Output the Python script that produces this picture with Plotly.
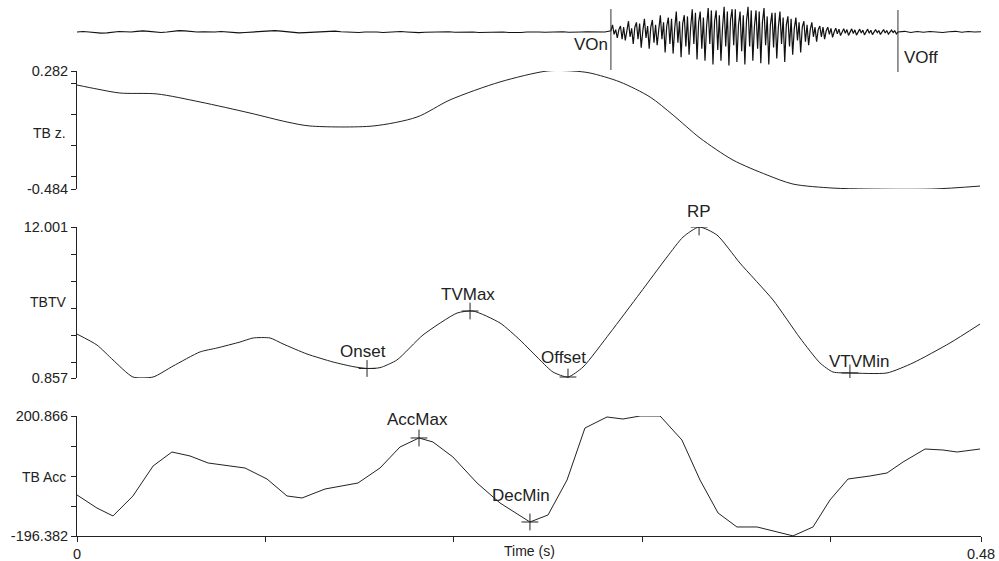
import numpy as np
import plotly.graph_objects as go

# ---------------- data ----------------
T_END = 0.48
T_VON = 0.2835
T_VOFF = 0.4359

# top panel: acoustic waveform (arbitrary units), three segments
wave_pre = [0.0, 0.02, 0.0, -0.03, -0.05, -0.04, 0.0, 0.02, 0.01, 0.0, 0.03, 0.05, 0.03, 0.0, -0.02,
            0.0, 0.04, 0.06, 0.05, 0.02, 0.0, 0.01, -0.01, 0.0, 0.02, 0.0, -0.02, -0.04, -0.02, 0.0,
            0.01, 0.03, 0.05, 0.06, 0.04, 0.01, -0.02, -0.04, -0.03, -0.01, 0.0, 0.02, 0.05, 0.04, 0.01,
            -0.01, -0.03, -0.02, 0.0, 0.01, 0.0, -0.02, 0.0, 0.03, 0.02, 0.0, -0.02, -0.03, -0.01, 0.0,
            0.02, 0.03, 0.01, -0.01, 0.0, 0.02, 0.0, -0.02, -0.01, 0.01, 0.02, 0.0, -0.02, -0.03, -0.02,
            0.0, 0.01, 0.0, -0.01, 0.0, 0.02, 0.01, -0.01, -0.02, 0.0, 0.01, 0.0, -0.01, 0.0]
wave_voiced = [
    0.05, 0.30, -0.1, 0.10, -0.25,   0.1, 0.25, -0.30, 0.2, -0.35,   0.05, 0.45, -0.2, 0.15, -0.50,
    0.2, 0.40, -0.3, 0.35, -0.65,    0.05, 0.55, -0.25, 0.25, -0.7,  0.2, 0.50, -0.45, 0.3, -0.55,
    0.1, 0.70, -0.3, 0.40, -0.85,    0.25, 0.6, -0.5, 0.55, -0.9,    0.15, 0.85, -0.45, 0.45, -1.05,
    0.35, 0.7, -0.6, 0.65, -0.95,    0.2, 0.95, -0.5, 0.8, -1.15,    0.4, 0.85, -0.7, 0.6, -1.2,
    0.25, 1.0, -0.5, 0.9, -1.35,     0.45, 0.9, -0.75, 0.7, -1.2,    0.2, 1.05, -0.6, 0.85, -1.4,
    0.5, 0.95, -0.55, 0.95, -1.25,   0.3, 0.85, -0.8, 0.7, -1.35,    0.45, 1.05, -0.6, 0.9, -1.2,
    0.25, 0.9, -0.7, 0.85, -1.3,     0.4, 1.0, -0.55, 0.65, -1.35,   0.3, 0.8, -0.65, 0.8, -1.1,
    0.2, 0.85, -0.5, 0.6, -1.25,     0.3, 0.65, -0.6, 0.55, -0.95,   0.15, 0.6, -0.35, 0.4, -0.85,
    0.2, 0.45, -0.4, 0.3, -0.55,     0.1, 0.4, -0.2, 0.2, -0.4,      0.1, 0.25, -0.2, 0.2, -0.3,
    0.05, 0.2, -0.1, 0.15, -0.22,    0.0, 0.16, -0.08, 0.12, -0.15,  0.03, 0.14, -0.05, 0.1, -0.14,
    0.0, 0.13, -0.06, 0.09, -0.13,   0.02, 0.12, -0.04, 0.08, -0.12, 0.0, 0.12, -0.05, 0.07, -0.11,
    0.01, 0.1, -0.03, 0.06, -0.1,    0.0, 0.1, -0.04, 0.06, -0.09,   0.0, 0.08, -0.02, 0.05, -0.08]
wave_post = [0.0, 0.03, -0.02, 0.02, -0.01, 0.02, 0.0, -0.02, 0.01, 0.03, -0.01, 0.02, 0.0, 0.01]

# TB z
tbz_t = [0, 0.0106, 0.0228, 0.0425, 0.0653, 0.0919, 0.1115, 0.1237, 0.1572, 0.1805, 0.1980, 0.2246,
         0.2496, 0.2634, 0.2724, 0.2883, 0.3043, 0.3165, 0.3308, 0.3483, 0.3664, 0.3802, 0.4014,
         0.4195, 0.4545, 0.4795]
tbz_v = [0.191, 0.165, 0.139, 0.133, 0.081, 0.009, -0.049, -0.075, -0.075, -0.017, 0.094, 0.211,
         0.282, 0.282, 0.269, 0.211, 0.113, -0.004, -0.153, -0.296, -0.393, -0.452, -0.478,
         -0.484, -0.484, -0.465]

# TBTV
tv_t = [0, 0.0106, 0.0191, 0.0297, 0.0404, 0.0510, 0.0653, 0.0743, 0.0865, 0.0935, 0.1025, 0.1094,
        0.1221, 0.1359, 0.1465, 0.1540, 0.1609, 0.1699, 0.1837, 0.2018, 0.2103, 0.2246, 0.2352,
        0.2458, 0.2527, 0.2607, 0.2687, 0.2830, 0.2990, 0.3133, 0.3218, 0.3303, 0.3398, 0.3520,
        0.3696, 0.3839, 0.3945, 0.4014, 0.4104, 0.4301, 0.4439, 0.4635, 0.4795]
tv_v = [4.10, 3.29, 2.19, 0.93, 0.93, 1.74, 2.78, 3.07, 3.51, 3.81, 3.81, 3.37,
        2.63, 2.04, 1.70, 1.56, 1.62, 2.19, 4.03, 5.65, 5.80, 4.92, 3.66,
        2.19, 1.30, 0.93, 1.67, 4.18, 7.13, 9.79, 11.26, 12.00, 11.41, 9.34,
        6.61, 3.81, 1.97, 1.30, 1.23, 1.23, 1.97, 3.44, 4.84]

# TB Acc
acc_t = [0, 0.0106, 0.0191, 0.0297, 0.0404, 0.0504, 0.0600, 0.0696, 0.0892, 0.1009, 0.1115, 0.1195,
         0.1317, 0.1396, 0.1492, 0.1609, 0.1715, 0.1816, 0.1890, 0.1996, 0.2124, 0.2246, 0.2405,
         0.2501, 0.2602, 0.2697, 0.2814, 0.2899, 0.2990, 0.3096, 0.3212, 0.3308, 0.3404, 0.3504,
         0.3611, 0.3802, 0.3908, 0.3998, 0.4094, 0.4211, 0.4301, 0.4386, 0.4503, 0.4598, 0.4673, 0.4795]
acc_v = [-60.6, -103.7, -130.1, -63.9, 35.4, 81.7, 68.5, 45.3, 28.7, -7.7, -63.9, -70.5,
         -40.8, -30.9, -20.9, 28.7, 98.3, 128.1, 114.8, 65.2, -20.9, -87.1, -150.0,
         -126.8, -11.0, 161.1, 197.6, 190.9, 200.9, 200.9, 121.4, -11.0, -120.2, -166.5,
         -166.5, -196.0, -166.5, -77.2, -7.7, 2.3, 12.2, 48.6, 91.6, 88.3, 81.7, 91.6]

# events
tv_ev_names = ["Onset", "TVMax", "Offset", "RP", "VTVMin"]
tv_ev_t = [0.1540, 0.2087, 0.2607, 0.3303, 0.4104]
tv_ev_v = [1.56, 5.80, 0.93, 12.00, 1.23]
acc_ev_names = ["AccMax", "DecMin", "RPAccMax"]
acc_ev_t = [0.1816, 0.2405, 0.3096]
acc_ev_v = [128.1, -150.0, 200.9]
acc_ev_marked = [True, True, False]

# axes
tbz_range = [-0.484, 0.282]
tbz_ticks = [0.282, 0.2, 0.0, -0.2, -0.4, -0.484]
tv_range = [0.857, 12.001]
tv_ticks = [12.001, 10, 8, 6, 4, 2, 0.857]
acc_range = [-196.382, 200.866]
acc_ticks = [200.866, 100, 0, -100, -196.382]
x_ticks = [0, 0.1, 0.2, 0.3, 0.4, 0.48]
x_ticktext = ["0", "", "", "", "", "0.48"]

# ---------------- style / layout ----------------
W, H = 999, 561
ML, MR, MT, MB = 77, 18, 0, 25
PH = H - MT - MB
FONT = "Liberation Sans, Arial, sans-serif"
LINE = "#222222"
TXT = "#222222"


def py(p):
    """pixel row (from top of plot area) -> paper fraction"""
    return (PH - p) / PH


def endpoint_text(vals):
    out = []
    for i, v in enumerate(vals):
        if i == 0 or i == len(vals) - 1:
            out.append(f"{v:.3f}")
        else:
            out.append("")
    return out


wave_v = wave_pre + wave_voiced + wave_post
wave_t = np.concatenate([
    np.linspace(0, T_VON, len(wave_pre), endpoint=False),
    np.linspace(T_VON, T_VOFF, len(wave_voiced), endpoint=False),
    np.linspace(T_VOFF, T_END, len(wave_post)),
])

fig = go.Figure()
fig.add_trace(go.Scatter(x=wave_t, y=wave_v, mode="lines", yaxis="y",
                         line=dict(color="#111111", width=1.2)))
fig.add_trace(go.Scatter(x=tbz_t, y=tbz_v, mode="lines", yaxis="y2",
                         line=dict(color=LINE, width=1, shape="spline", smoothing=0.8)))
fig.add_trace(go.Scatter(x=tv_t, y=tv_v, mode="lines", yaxis="y3",
                         line=dict(color=LINE, width=1, shape="spline", smoothing=0.6)))
fig.add_trace(go.Scatter(x=acc_t, y=acc_v, mode="lines", yaxis="y4",
                         line=dict(color=LINE, width=1)))

# event markers
fig.add_trace(go.Scatter(x=tv_ev_t, y=tv_ev_v, mode="markers", yaxis="y3",
                         marker=dict(symbol="cross-thin", size=12,
                                     line=dict(color=LINE, width=1))))
fig.add_trace(go.Scatter(x=[t for t, m in zip(acc_ev_t, acc_ev_marked) if m],
                         y=[v for v, m in zip(acc_ev_v, acc_ev_marked) if m],
                         mode="markers", yaxis="y4",
                         marker=dict(symbol="cross-thin", size=12,
                                     line=dict(color=LINE, width=1))))

ann = []
label_shift = {"Onset": (-4, 17), "TVMax": (-2, 17), "Offset": (-4, 20), "RP": (0, 16),
               "VTVMin": (9, 11), "AccMax": (-2, 18), "DecMin": (-9, 26), "RPAccMax": (0, 10)}
for names, ts, vs, yr in [(tv_ev_names, tv_ev_t, tv_ev_v, "y3"),
                          (acc_ev_names, acc_ev_t, acc_ev_v, "y4")]:
    for n, t, v in zip(names, ts, vs):
        dx, dy = label_shift[n]
        ann.append(dict(x=t, y=v, xref="x", yref=yr, text=n, showarrow=False,
                        xanchor="center", yanchor="middle", xshift=dx, yshift=dy,
                        font=dict(family=FONT, size=17, color=TXT)))

# y-axis names
for name, p in [("TB z.", 133), ("TBTV", 302), ("TB Acc", 477)]:
    ann.append(dict(x=0, y=py(p), xref="paper", yref="paper", text=name, showarrow=False,
                    xanchor="right", yanchor="middle", xshift=-9,
                    font=dict(family=FONT, size=14, color=TXT)))

ann.append(dict(x=T_END / 2, y=py(551), xref="x", yref="paper", text="Time (s)",
                showarrow=False, xanchor="center", yanchor="middle",
                font=dict(family=FONT, size=14, color=TXT)))

# voicing labels
ann.append(dict(x=T_VON, y=py(44), xref="x", yref="paper", text="VOn", showarrow=False,
                xanchor="right", yanchor="middle", xshift=-1,
                font=dict(family=FONT, size=17, color=TXT)))
ann.append(dict(x=T_VOFF, y=py(57), xref="x", yref="paper", text="VOff", showarrow=False,
                xanchor="left", yanchor="middle", xshift=4,
                font=dict(family=FONT, size=17, color=TXT)))

shapes = []
for t, p0, p1 in [(T_VON, 9, 70), (T_VOFF, 10, 72)]:
    shapes.append(dict(type="line", xref="x", yref="paper", x0=t, x1=t,
                       y0=py(p1), y1=py(p0), line=dict(color="#333333", width=1)))


def yax(dom, rng, ticks):
    return dict(domain=dom, range=rng, anchor="x", showline=True, linecolor=LINE, linewidth=1,
                ticks="outside", ticklen=5, tickcolor=LINE, tickwidth=1,
                tickvals=ticks, ticktext=endpoint_text(ticks), showgrid=False, zeroline=False,
                tickfont=dict(family=FONT, size=14.5, color=TXT), fixedrange=True)


fig.update_layout(
    width=W, height=H,
    margin=dict(l=ML, r=MR, t=MT, b=MB, autoexpand=False),
    paper_bgcolor="white", plot_bgcolor="white",
    showlegend=False, hovermode=False,
    xaxis=dict(domain=[0, 1], range=[0, T_END], anchor="y4", showline=True, linecolor=LINE,
               linewidth=1, ticks="outside", ticklen=5, tickcolor=LINE, tickvals=x_ticks,
               ticktext=x_ticktext, showgrid=False, zeroline=False, fixedrange=True,
               tickfont=dict(family=FONT, size=14.5, color=TXT)),
    yaxis=dict(domain=[py(72), py(5)], range=[-1.667, 1.125], visible=False, anchor="x",
               fixedrange=True),
    yaxis2=yax([py(189), py(71)], tbz_range, tbz_ticks),
    yaxis3=yax([py(378), py(227)], tv_range, tv_ticks),
    yaxis4=yax([py(536), py(416)], acc_range, acc_ticks),
    annotations=ann,
    shapes=shapes,
)

fig.write_html("out.html",
               config={"displayModeBar": False, "staticPlot": True},
               post_script="document.body.style.margin='0';document.body.style.overflow='hidden';")
